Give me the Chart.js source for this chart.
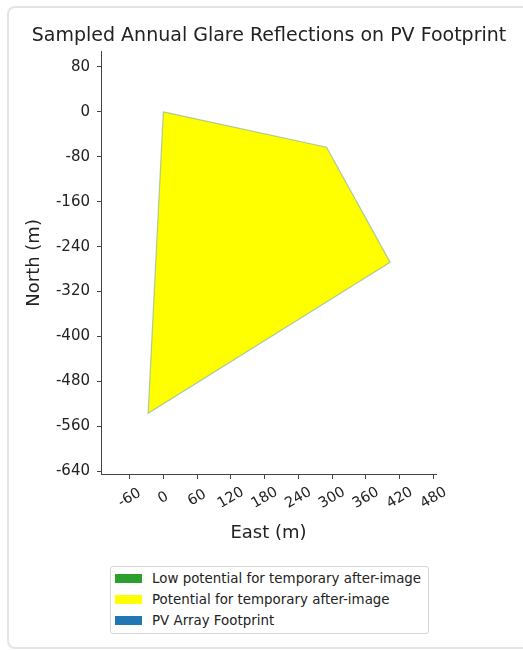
<!DOCTYPE html>
<html>
<head>
<meta charset="utf-8">
<script src="https://cdn.jsdelivr.net/npm/chart.js"></script>
<style>
  html, body { margin: 0; width: 523px; height: 650px; overflow: hidden; background: #fff;
               font-family: "DejaVu Sans", sans-serif; }
  #card { position: absolute; left: 7px; top: 6px; right: 0; bottom: 1px;
          border: 2px solid #e4e4e4; border-right: none; border-radius: 8px 0 0 8px; }
  #glareChart { position: absolute; left: 0; top: 0; }
  #legend { position: absolute; left: 110px; top: 566px; width: 319px; height: 68px;
            border: 1px solid #d6d6d6; border-radius: 3px; box-sizing: border-box;
            font-size: 13.4px; color: #222; }
  .item { position: absolute; left: 4px; height: 20px; line-height: 20px; white-space: nowrap; }
  .swatch { display: inline-block; width: 27px; height: 9px; vertical-align: middle;
            margin-right: 10px; position: relative; top: -1px; }
</style>
</head>
<body>
<div id="card"></div>
<canvas id="glareChart" width="523" height="560"></canvas>
<div id="legend"></div>
<script>
// PV footprint corners (metres)
const footprintEast = [0, 290, 403, -27];
const footprintNorth = [0, -63, -268, -537];

// glare region (covers the whole footprint)
const glareEast = [0, 290, 403, -27];
const glareNorth = [0, -63, -268, -537];

const eastTicks = [-60, 0, 60, 120, 180, 240, 300, 360, 420, 480];
const northTicks = [80, 0, -80, -160, -240, -320, -400, -480, -560, -640];

const legendLabels = ['Low potential for temporary after-image', 'Potential for temporary after-image', 'PV Array Footprint'];
const legendColors = ['#2ca02c', '#ffff00', '#1f77b4'];

function polygon(xs, ys) {
    const pts = xs.map((x, i) => ({ x: x, y: ys[i] }));
    pts.push({ x: xs[0], y: ys[0] }); // close it
    return pts;
}

// rotated east tick labels, centred under each tick
const eastLabels = {
    id: 'eastLabels',
    afterDraw(chart) {
        const sc = chart.scales.x;
        const c = chart.ctx;
        c.save();
        c.font = '14.5px "DejaVu Sans"';
        c.fillStyle = '#222';
        c.textAlign = 'center';
        c.textBaseline = 'middle';
        sc.ticks.forEach(t => {
            c.save();
            c.translate(sc.getPixelForValue(t.value), sc.top + 24);
            c.rotate(-Math.PI / 6);
            c.fillText(String(t.value), 0, 0);
            c.restore();
        });
        c.restore();
    }
};

const ctx = document.getElementById('glareChart').getContext('2d');

const glareChart = new Chart(ctx, {
    type: 'scatter',
    data: {
        datasets: [{
            label: legendLabels[1],
            data: polygon(glareEast, glareNorth),
            showLine: true,
            fill: 'shape',
            backgroundColor: legendColors[1],
            borderColor: 'rgba(0,0,0,0)',
            borderWidth: 0,
            pointRadius: 0,
            order: 2
        }, {
            label: legendLabels[2],
            data: polygon(footprintEast, footprintNorth),
            showLine: true,
            fill: false,
            borderColor: 'rgba(110,160,170,0.55)',
            borderWidth: 1.2,
            pointRadius: 0,
            order: 1
        }]
    },
    options: {
        responsive: false,
        animation: false,
        devicePixelRatio: 1,
        layout: { padding: { left: 15, right: 0, top: 0, bottom: 0 } },
        plugins: {
            legend: { display: false },
            tooltip: { enabled: false },
            title: {
                display: true,
                text: 'Sampled Annual Glare Reflections on PV Footprint',
                color: '#222',
                font: { family: 'DejaVu Sans', size: 19, weight: 'normal' },
                padding: { top: 25, bottom: 4 }
            }
        },
        scales: {
            x: {
                type: 'linear',
                min: -110.7,
                max: 484.4,
                afterBuildTicks: s => { s.ticks = eastTicks.map(v => ({ value: v })); },
                afterFit: s => { s.height = 86; },
                ticks: { display: false },
                grid: { drawOnChartArea: false, drawTicks: true, tickLength: 5, color: '#444' },
                border: { display: true, color: '#444', width: 1 },
                title: {
                    display: true, text: 'East (m)', color: '#222',
                    font: { family: 'DejaVu Sans', size: 18 },
                    padding: { top: 0, bottom: 16 }
                }
            },
            y: {
                type: 'linear',
                min: -645,
                max: 107,
                afterBuildTicks: s => { s.ticks = northTicks.map(v => ({ value: v })); },
                afterFit: s => { s.width = 86; },
                ticks: {
                    color: '#222',
                    padding: 7,
                    font: { family: 'DejaVu Sans', size: 15 },
                    callback: v => String(v)
                },
                grid: { drawOnChartArea: false, drawTicks: true, tickLength: 4, color: '#444' },
                border: { display: true, color: '#444', width: 1 },
                title: {
                    display: true, text: 'North (m)', color: '#222',
                    font: { family: 'DejaVu Sans', size: 18 },
                    padding: { top: 9, bottom: 0 }
                }
            },
            pad: {
                type: 'linear',
                position: 'right',
                display: true,
                afterFit: s => { s.width = 87; },
                ticks: { display: false },
                grid: { display: false },
                border: { display: false }
            }
        }
    },
    plugins: [eastLabels]
});

// legend
const lg = document.getElementById('legend');
legendLabels.forEach((name, i) => {
    const row = document.createElement('div');
    row.className = 'item';
    row.style.top = (2 + i * 21) + 'px';
    row.innerHTML = '<span class="swatch" style="background:' + legendColors[i] + '"></span>' + name;
    lg.appendChild(row);
});
</script>
</body>
</html>
